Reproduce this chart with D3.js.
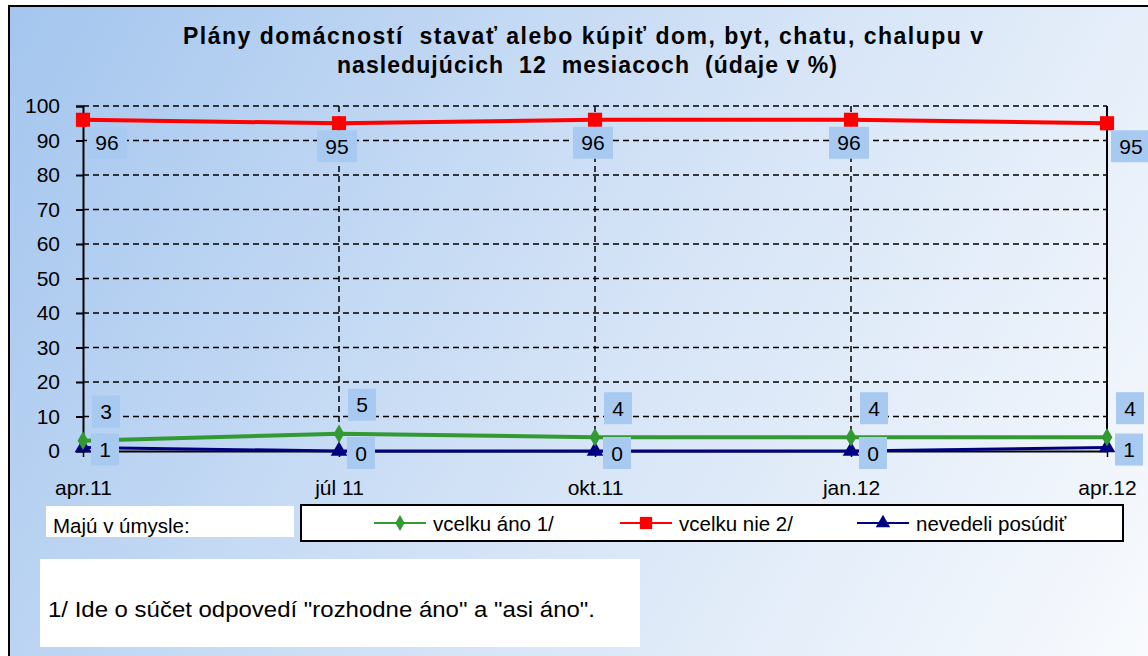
<!DOCTYPE html>
<html>
<head>
<meta charset="utf-8">
<script src="https://cdn.jsdelivr.net/npm/d3@7"></script>
<style>
  html, body { margin: 0; padding: 0; background: #ffffff; }
  svg { display: block; font-family: "Liberation Sans", Arial, sans-serif; }
  .title { white-space: pre; }
</style>
</head>
<body>
<svg id="chart" width="1148" height="656"></svg>
<script>
// ---- data ----
const categories = ["apr.11", "júl 11", "okt.11", "jan.12", "apr.12"];
const vcelkuAno = [3, 5, 4, 4, 4];
const vcelkuNie = [96, 95, 96, 96, 95];
const nevedeli = [1, 0, 0, 0, 1];
const yTicks = [0, 10, 20, 30, 40, 50, 60, 70, 80, 90, 100];
const seriesNames = ["vcelku áno 1/", "vcelku nie 2/", "nevedeli posúdiť"];
const titleLines = ["Plány domácností  stavať alebo kúpiť dom, byt, chatu, chalupu v",
                    "nasledujúcich  12  mesiacoch  (údaje v %)"];
const legendLabel = "Majú v úmysle:";
const footnote = "1/ Ide o súčet odpovedí \"rozhodne áno\" a \"asi áno\".";

const svg = d3.select("#chart");
const W = 1148, H = 656;

// background gradient
const defs = svg.append("defs");
const grad = defs.append("linearGradient").attr("id", "bg")
  .attr("gradientUnits", "userSpaceOnUse")
  .attr("x1", 0).attr("y1", 0).attr("x2", W).attr("y2", H);
grad.append("stop").attr("offset", "0").attr("stop-color", "#a3c5ee");
grad.append("stop").attr("offset", "0.5").attr("stop-color", "#d2e2f6");
grad.append("stop").attr("offset", "1").attr("stop-color", "#f8fafd");

svg.append("rect").attr("x", 9).attr("y", 6).attr("width", W + 20).attr("height", H + 20)
  .attr("fill", "url(#bg)").attr("stroke", "#000").attr("stroke-width", 2);

// title
const titleLeft = [183, 337], titleRight = [983, 837];
svg.append("g").selectAll("text").data(titleLines).join("text")
  .attr("class", "title")
  .attr("x", (d, i) => titleLeft[i]).attr("y", (d, i) => 44 + i * 29)
  .attr("font-size", 23).attr("font-weight", "bold").attr("fill", "#000")
  .attr("textLength", (d, i) => titleRight[i] - titleLeft[i])
  .attr("lengthAdjust", "spacing")
  .text(d => d);

// scales
const x = d3.scalePoint().domain(categories).range([83, 1107]);
const y = d3.scaleLinear().domain([0, 100]).range([451, 106]);

// horizontal gridlines
svg.append("g").attr("class", "hgrid")
  .selectAll("line").data(yTicks.filter(d => d > 0)).join("line")
  .attr("x1", 83).attr("x2", 1107)
  .attr("y1", d => y(d)).attr("y2", d => y(d))
  .attr("stroke", "#000").attr("stroke-width", 1.5).attr("stroke-dasharray", "6,4");

// vertical gridlines
svg.append("g").attr("class", "vgrid")
  .selectAll("line").data(categories.slice(1, -1)).join("line")
  .attr("x1", d => x(d)).attr("x2", d => x(d))
  .attr("y1", y(100)).attr("y2", y(0))
  .attr("stroke", "#000").attr("stroke-width", 1.5).attr("stroke-dasharray", "6,4");

// right edge solid
svg.append("line").attr("x1", x(categories[4])).attr("x2", x(categories[4]))
  .attr("y1", y(100)).attr("y2", y(0)).attr("stroke", "#000").attr("stroke-width", 2);

// y axis
const yAxis = svg.append("g").attr("transform", "translate(83,0)")
  .call(d3.axisLeft(y).tickValues(yTicks).tickSize(7).tickPadding(16).tickFormat(d3.format("d")));
yAxis.select(".domain").attr("stroke", "#000").attr("stroke-width", 2);
yAxis.selectAll(".tick line").attr("stroke", "#000").attr("stroke-width", 2);
yAxis.selectAll("text").attr("font-size", 21).attr("fill", "#000")
  .attr("font-family", "Liberation Sans, Arial, sans-serif");

// x axis
const xAxis = svg.append("g").attr("transform", `translate(0,${y(0)})`)
  .call(d3.axisBottom(x).tickSize(6).tickPadding(23).tickSizeOuter(0));
xAxis.select(".domain").attr("stroke", "#000").attr("stroke-width", 2);
xAxis.selectAll(".tick line").attr("stroke", "#000").attr("stroke-width", 1.5);
xAxis.selectAll("text").attr("font-size", 21).attr("fill", "#000")
  .attr("font-family", "Liberation Sans, Arial, sans-serif");

// series
const series = [
  { name: seriesNames[0], values: vcelkuAno, color: "#339933", width: 4, marker: "diamond" },
  { name: seriesNames[1], values: vcelkuNie, color: "#ff0000", width: 4, marker: "square" },
  { name: seriesNames[2], values: nevedeli, color: "#000080", width: 3, marker: "triangle" }
];
const symType = { diamond: d3.symbolDiamond, square: d3.symbolSquare, triangle: d3.symbolTriangle };
const symSize = { diamond: 100, square: 200, triangle: 120 };

const line = d3.line().x((d, i) => x(categories[i])).y(d => y(d));
const drawOrder = [2, 0, 1];
drawOrder.forEach(si => {
  const s = series[si];
  svg.append("path").datum(s.values)
    .attr("d", line).attr("fill", "none")
    .attr("stroke", s.color).attr("stroke-width", s.width);
  svg.append("g").selectAll("path").data(s.values).join("path")
    .attr("transform", (d, i) => `translate(${x(categories[i])},${y(d)})`)
    .attr("d", d3.symbol().type(symType[s.marker]).size(symSize[s.marker]))
    .attr("fill", s.color);
});

// data labels
const labelFill = "#a8caf0";
function addLabel(cx, cy, text, anchor) {
  const w = text.length === 1 ? 28 : 40, h = 32;
  let left, top;
  if (anchor.kind === "red") {
    left = anchor.edge ? cx + 4 : cx - w / 2 - 2;
    top = cy + 7;
  } else if (anchor.kind === "green") {
    left = cx + 9; top = cy - 13 - h;
  } else {
    left = cx + 8; top = cy + 2 - h / 2;
  }
  const g = svg.append("g");
  g.append("rect").attr("x", left).attr("y", top).attr("width", w).attr("height", h).attr("fill", labelFill);
  g.append("text").attr("x", left + w / 2).attr("y", top + h / 2 + 7.5)
    .attr("text-anchor", "middle").attr("font-size", 21).attr("fill", "#000").text(text);
}
vcelkuNie.forEach((v, i) => addLabel(x(categories[i]), y(v), String(v), { kind: "red", edge: i === 0 || i === categories.length - 1 }));
vcelkuAno.forEach((v, i) => addLabel(x(categories[i]), y(v), String(v), { kind: "green" }));
nevedeli.forEach((v, i) => addLabel(x(categories[i]), y(v), String(v), { kind: "navy" }));

// legend: label box
defs.append("clipPath").attr("id", "legclip").append("rect")
  .attr("x", 46).attr("y", 506).attr("width", 248).attr("height", 31);
svg.append("rect").attr("x", 46).attr("y", 506).attr("width", 248).attr("height", 31).attr("fill", "#fff");
svg.append("text").attr("x", 53).attr("y", 533).attr("font-size", 20.5).attr("fill", "#000")
  .attr("clip-path", "url(#legclip)").text(legendLabel);

// legend box
svg.append("rect").attr("x", 301).attr("y", 505).attr("width", 822).attr("height", 36)
  .attr("fill", "#fff").attr("stroke", "#000").attr("stroke-width", 2);
const legendX = [374, 620, 857];
const legendY = 523;
series.forEach((s, i) => {
  const g = svg.append("g").attr("transform", `translate(${legendX[i]},${legendY})`);
  g.append("line").attr("x1", 0).attr("x2", 52).attr("y1", 0).attr("y2", 0)
    .attr("stroke", s.color).attr("stroke-width", 2);
  g.append("path").attr("transform", "translate(26,0)")
    .attr("d", d3.symbol().type(symType[s.marker]).size(symSize[s.marker] * 0.75))
    .attr("fill", s.color);
  g.append("text").attr("x", 59).attr("y", 7.5).attr("font-size", 20.5).attr("fill", "#000").text(s.name);
});

// footnote box
svg.append("rect").attr("x", 40).attr("y", 559).attr("width", 600).attr("height", 88).attr("fill", "#fff");
svg.append("text").attr("x", 48).attr("y", 617).attr("font-size", 21.5).attr("fill", "#000")
  .attr("textLength", 547).attr("lengthAdjust", "spacingAndGlyphs").text(footnote);
</script>
</body>
</html>
